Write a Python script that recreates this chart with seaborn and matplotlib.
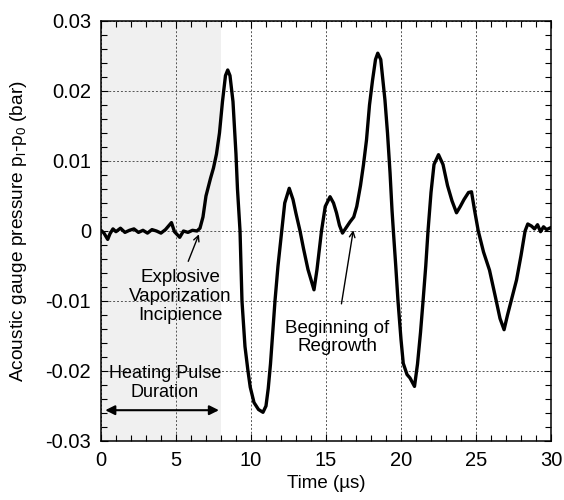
import numpy as np
import pandas as pd
import seaborn as sns
import matplotlib
matplotlib.use('Agg')
import matplotlib.pyplot as plt
from matplotlib.ticker import MultipleLocator, FuncFormatter

# Data (time in microseconds, pressure in bar)
time_us = [0.0, 0.2, 0.45, 0.6, 0.8, 1.0, 1.3, 1.6, 1.9, 2.2, 2.5, 2.8, 3.1, 3.4,
           3.7, 4.0, 4.3, 4.7, 4.9, 5.25, 5.5, 5.8, 6.1, 6.4,
           6.6, 6.8, 7.0, 7.3, 7.5, 7.7, 7.9, 8.1, 8.3, 8.45, 8.6, 8.8, 9.0, 9.1,
           9.27, 9.4, 9.6, 9.8, 9.95, 10.2, 10.5, 10.8, 11.0, 11.15, 11.3, 11.45,
           11.6, 11.8, 12.05, 12.25, 12.55, 12.8, 13.0, 13.27, 13.5, 13.8, 14.2,
           14.4, 14.7, 14.95, 15.27, 15.5, 15.7, 15.9, 16.1, 16.35, 16.6, 16.85,
           17.05, 17.3, 17.5, 17.7, 17.9, 18.1, 18.3, 18.45, 18.65, 18.93, 19.1,
           19.27, 19.4, 19.5, 19.65, 19.8, 20.0, 20.15, 20.4, 20.6, 20.9, 21.1,
           21.3, 21.47, 21.65, 21.8, 22.0, 22.2, 22.5, 22.8, 23.1, 23.4, 23.7,
           23.95, 24.2, 24.5, 24.7, 24.9, 25.15, 25.5, 25.9, 26.3, 26.6, 26.87,
           27.1, 27.4, 27.7, 28.0, 28.27, 28.45, 28.7, 28.9, 29.1, 29.3, 29.5,
           29.7, 30.0]
pressure_bar = [0.0001, -0.0003, -0.0012, -0.0004, 0.0003, -0.0001, 0.0004, -0.0002,
                0.0001, 0.0003, -0.0002, 0.0001, -0.0003, 0.0002, 0.0, -0.0003,
                0.0002, 0.0012, -0.0001, -0.0009, 0.0, -0.0002, 0.0001, 0.0,
                0.0004, 0.002, 0.005, 0.0075, 0.009, 0.011, 0.014, 0.0185, 0.0222,
                0.023, 0.0222, 0.0185, 0.011, 0.006, 0.0, -0.01, -0.0165, -0.02,
                -0.0223, -0.0245, -0.0255, -0.0259, -0.025, -0.0225, -0.019, -0.0145,
                -0.01, -0.005, 0.0, 0.004, 0.0061, 0.0045, 0.0025, 0.0, -0.0025,
                -0.0055, -0.0084, -0.0055, 0.0, 0.0035, 0.0049, 0.004, 0.0026,
                0.0008, -0.0003, 0.0005, 0.0013, 0.002, 0.0035, 0.0065, 0.0095,
                0.013, 0.018, 0.0215, 0.0245, 0.0254, 0.0245, 0.0187, 0.014, 0.0083,
                0.003, -0.0003, -0.005, -0.01, -0.0155, -0.0189, -0.0205, -0.021,
                -0.0222, -0.019, -0.0145, -0.01, -0.005, 0.0, 0.0055, 0.0095, 0.0109,
                0.0095, 0.0065, 0.0043, 0.0026, 0.0035, 0.0045, 0.0055, 0.0056,
                0.003, 0.0, -0.003, -0.0056, -0.0095, -0.0125, -0.0141, -0.012,
                -0.0095, -0.007, -0.0035, 0.0, 0.001, 0.0007, 0.0003, 0.0009,
                -0.0001, 0.0006, 0.0002, 0.0005]

df = pd.DataFrame({'time': time_us, 'pressure': pressure_bar})

sns.set_style('ticks')
plt.rcParams['font.family'] = ['Liberation Sans', 'DejaVu Sans']
plt.rcParams['mathtext.fontset'] = 'custom'
plt.rcParams['mathtext.rm'] = 'Liberation Sans'
plt.rcParams['mathtext.it'] = 'Liberation Sans'
plt.rcParams['text.color'] = 'black'
plt.rcParams['axes.labelcolor'] = 'black'
plt.rcParams['xtick.color'] = 'black'
plt.rcParams['ytick.color'] = 'black'
plt.rcParams['axes.edgecolor'] = 'black'

fig = plt.figure(figsize=(5.64, 5.0), dpi=100)
ax = fig.add_axes([0.179, 0.118, 0.798, 0.840])

# heating pulse shading
ax.axvspan(0, 8, color='#f0f0f0', zorder=0, lw=0)

sns.lineplot(data=df, x='time', y='pressure', color='black', lw=2.4, ax=ax, zorder=3)

ax.set_xlim(0, 30)
ax.set_ylim(-0.03, 0.03)
ax.xaxis.set_major_locator(MultipleLocator(5))
ax.xaxis.set_minor_locator(MultipleLocator(1))
ax.yaxis.set_major_locator(MultipleLocator(0.01))
ax.yaxis.set_minor_locator(MultipleLocator(0.002))
ax.yaxis.set_major_formatter(FuncFormatter(lambda v, p: '0' if abs(v) < 1e-9 else f'{v:.2f}'))
ax.tick_params(which='both', direction='in', top=True, right=True, labelsize=14.5, width=0.8)
ax.tick_params(which='major', length=5, pad=7)
ax.tick_params(which='minor', length=4)
ax.grid(True, which='major', linestyle=(0, (2, 2)), color='#555555', lw=0.7)
for s in ax.spines.values():
    s.set_linewidth(1.1)
    s.set_zorder(5)

ax.set_xlabel('Time (\u00b5s)', fontsize=13.5)
ax.set_ylabel(r'Acoustic gauge pressure p$_\mathrm{l}$-p$_0$ (bar)', fontsize=13.8)
ax.yaxis.set_label_coords(-0.16, 0.5)

# annotations
ax.annotate('', xy=(6.6, -0.0001), xytext=(5.75, -0.0047),
            arrowprops=dict(arrowstyle='->', color='black', lw=1))
ax.text(5.27, -0.0094, 'Explosive\nVaporization\nIncipience', ha='center', va='center',
        fontsize=13.5, linespacing=1.15)
ax.annotate('', xy=(16.85, 0.0005), xytext=(16.0, -0.0108),
            arrowprops=dict(arrowstyle='->', color='black', lw=1))
ax.text(15.75, -0.0152, 'Beginning of\nRegrowth', ha='center', va='center',
        fontsize=13.5, linespacing=1.12)
ax.annotate('', xy=(8.05, -0.0256), xytext=(0.1, -0.0256),
            arrowprops=dict(arrowstyle='<|-|>', color='black', lw=1.5, mutation_scale=14))
ax.text(4.25, -0.0217, 'Heating Pulse\nDuration', ha='center', va='center',
        fontsize=13, linespacing=1.15)

fig.savefig('out.png', dpi=100)
